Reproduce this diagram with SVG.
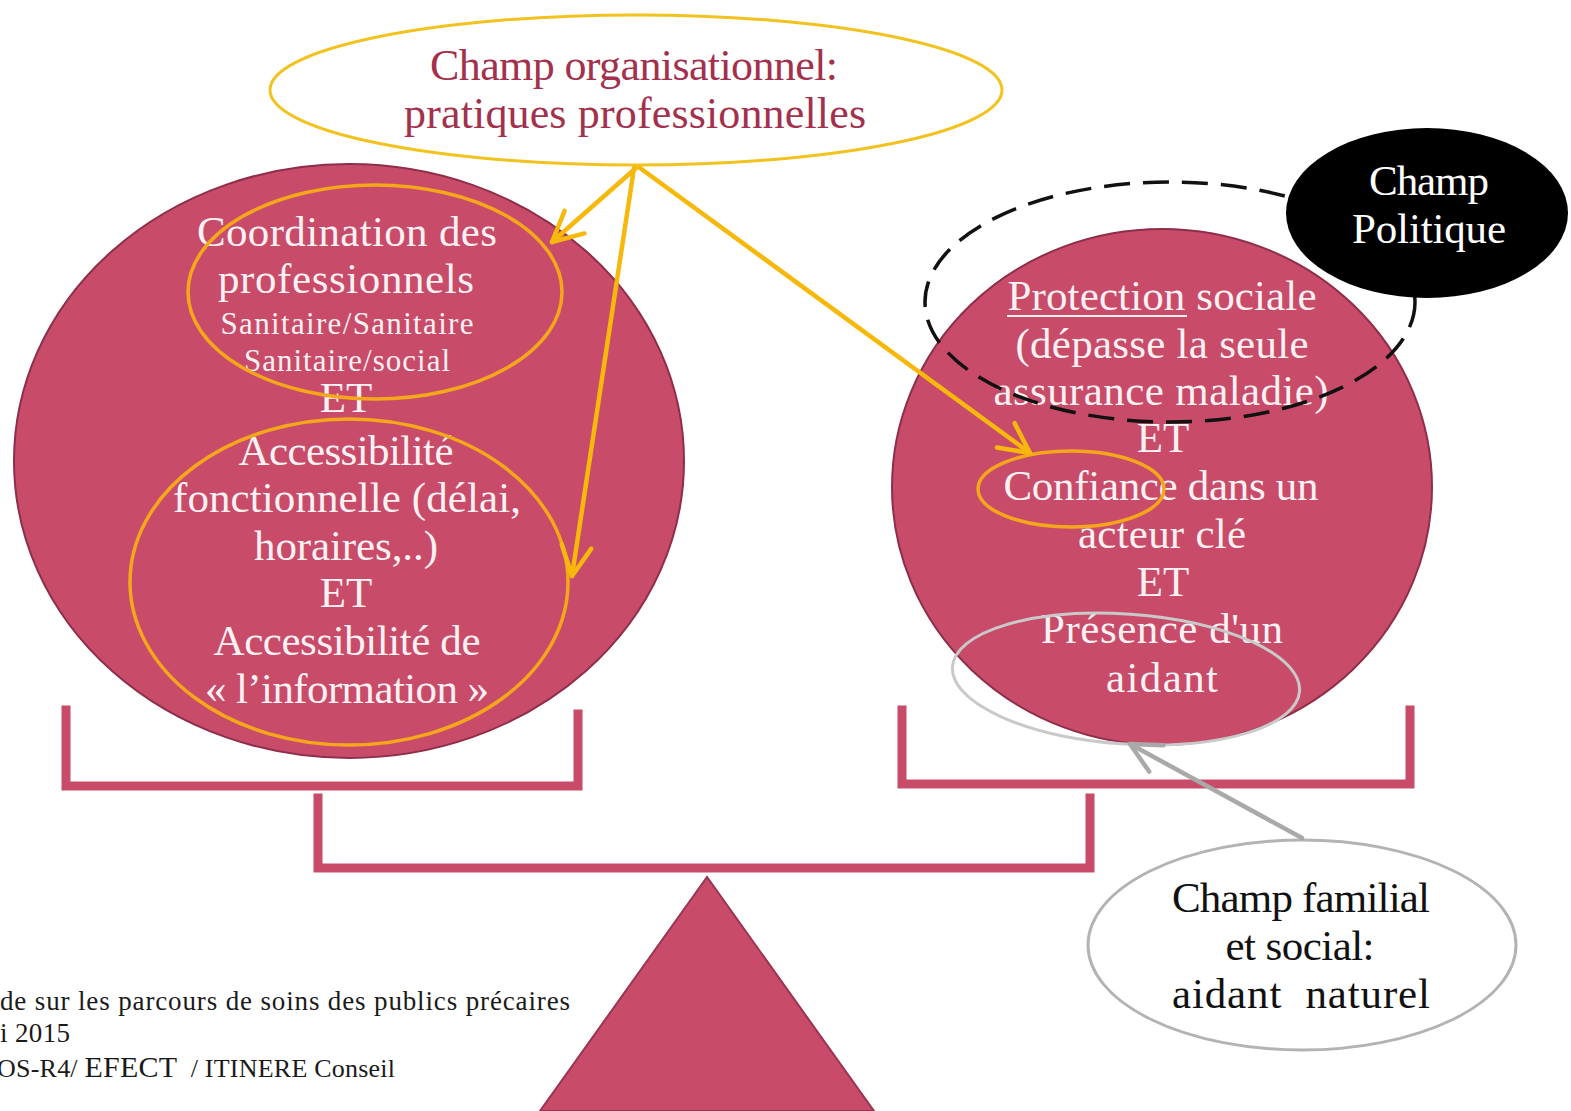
<svg xmlns="http://www.w3.org/2000/svg" width="1571" height="1111" viewBox="0 0 1571 1111">
  <style>
    .pan { fill: none; stroke: #c84c69; stroke-width: 9; stroke-linecap: square; }
    .plate { fill: #c84c69; stroke: #8e2e4a; stroke-width: 2; }
    .wt { font-family: "Liberation Serif", "DejaVu Serif", serif; fill: #fbf1f3; text-anchor: middle; }
    .bk { font-family: "Liberation Serif", "DejaVu Serif", serif; fill: #111; text-anchor: middle; }
    .rd { font-family: "Liberation Serif", "DejaVu Serif", serif; fill: #a3304c; text-anchor: middle; }
    .ring { fill: none; stroke: #f5a71b; stroke-width: 3.5; }
    .arr { fill: none; stroke: #f7b80c; stroke-width: 4.5; stroke-linecap: round; stroke-linejoin: round; }
  </style>
  <defs>
    <marker id="vhead" viewBox="0 0 12 12" refX="11" refY="6" markerWidth="8" markerHeight="8" markerUnits="strokeWidth" orient="auto">
      <path d="M1,1 L11,6 L1,11" fill="none" stroke="#f7b80c" stroke-width="1.5" stroke-linejoin="round" stroke-linecap="round"/>
    </marker>
    <marker id="ghead" viewBox="0 0 12 12" refX="11" refY="6" markerWidth="8" markerHeight="8" markerUnits="strokeWidth" orient="auto">
      <path d="M1,1 L11,6 L1,11" fill="none" stroke="#a9a9a9" stroke-width="1.5" stroke-linejoin="round" stroke-linecap="round"/>
    </marker>
  </defs>

  <rect width="1571" height="1111" fill="#ffffff"/>

  <!-- balance: fulcrum, beam and pans -->
  <g id="balance">
    <polygon points="707,877 540,1111 874,1111" fill="#c84c69" stroke="#9a3452" stroke-width="2"/>
    <path class="pan" d="M318,798 V868 H1090 V798"/>
    <path class="pan" d="M66,710 V786 H578 V714"/>
    <path class="pan" d="M902,710 V784 H1410 V710"/>
  </g>

  <!-- left plate -->
  <g id="left-plate">
    <ellipse class="plate" cx="349" cy="461" rx="335" ry="297"/>
    <text class="wt" font-size="43" x="347" y="246" textLength="300">Coordination des</text>
    <text class="wt" font-size="43" x="346" y="293" textLength="256">professionnels</text>
    <text class="wt" font-size="31" x="347" y="334" textLength="253">Sanitaire/Sanitaire</text>
    <text class="wt" font-size="31" x="347" y="371" textLength="206">Sanitaire/social</text>
    <text class="wt" font-size="43" x="346" y="412">ET</text>
    <text class="wt" font-size="43" x="346" y="465" textLength="215">Accessibilité</text>
    <text class="wt" font-size="43" x="347" y="512" textLength="348">fonctionnelle (délai,</text>
    <text class="wt" font-size="43" x="346" y="560" textLength="184">horaires,..)</text>
    <text class="wt" font-size="43" x="346" y="607">ET</text>
    <text class="wt" font-size="43" x="347" y="655" textLength="267">Accessibilité de</text>
    <text class="wt" font-size="43" x="347" y="703" textLength="284">« l’information »</text>
    <ellipse class="ring" cx="375" cy="292" rx="187" ry="107"/>
    <ellipse class="ring" cx="349" cy="582" rx="219" ry="163"/>
  </g>

  <!-- right plate -->
  <g id="right-plate">
    <ellipse class="plate" cx="1162" cy="487" rx="270" ry="258"/>
    <text class="wt" font-size="43" x="1162" y="310" textLength="309">Protection sociale</text>
    <line x1="1007" y1="316" x2="1187" y2="316" stroke="#fbf1f3" stroke-width="2"/>
    <text class="wt" font-size="43" x="1162" y="358" textLength="293">(dépasse la seule</text>
    <text class="wt" font-size="43" x="1161" y="405" textLength="335">assurance maladie)</text>
    <text class="wt" font-size="43" x="1163" y="452">ET</text>
    <text class="wt" font-size="43" x="1161" y="500" textLength="315">Confiance dans un</text>
    <text class="wt" font-size="43" x="1162" y="548" textLength="168">acteur clé</text>
    <text class="wt" font-size="43" x="1163" y="596">ET</text>
    <text class="wt" font-size="43" x="1162" y="643" textLength="242">Présence d'un</text>
    <text class="wt" font-size="43" x="1162" y="692" textLength="112">aidant</text>
    <ellipse class="ring" cx="1071" cy="489" rx="93" ry="38"/>
    <ellipse cx="1126" cy="679" rx="174" ry="65" transform="rotate(4 1126 679)" fill="none" stroke="#c9c9c9" stroke-width="3"/>
  </g>

  <!-- political field -->
  <g id="champ-politique">
    <ellipse cx="1170" cy="302" rx="245" ry="120" fill="none" stroke="#111" stroke-width="3.5" stroke-dasharray="26 13"/>
    <ellipse cx="1427" cy="213" rx="141" ry="85" fill="#000"/>
    <text font-family="Liberation Serif, DejaVu Serif, serif" fill="#fff" text-anchor="middle" font-size="43" x="1429" y="195" textLength="120">Champ</text>
    <text font-family="Liberation Serif, DejaVu Serif, serif" fill="#fff" text-anchor="middle" font-size="43" x="1429" y="243" textLength="154">Politique</text>
  </g>

  <!-- organisational field -->
  <g id="champ-organisationnel">
    <ellipse cx="636" cy="90" rx="366" ry="75" fill="#fff" stroke="#f2c21e" stroke-width="3"/>
    <text class="rd" font-size="44" x="634" y="80" textLength="408">Champ organisationnel:</text>
    <text class="rd" font-size="44" x="635" y="128" textLength="462">pratiques professionnelles</text>
  </g>

  <!-- family and social field -->
  <g id="champ-familial">
    <ellipse cx="1302" cy="945" rx="214" ry="105" fill="#fff" stroke="#b3b3b3" stroke-width="3"/>
    <text class="bk" font-size="43" x="1301" y="912" textLength="258">Champ familial</text>
    <text class="bk" font-size="43" x="1300" y="960" textLength="149">et social:</text>
    <text class="bk" font-size="43" x="1301" y="1008" textLength="258" xml:space="preserve">aidant  naturel</text>
  </g>

  <!-- connectors -->
  <g id="connectors">
    <line class="arr" x1="636" y1="168" x2="552" y2="242" marker-end="url(#vhead)"/>
    <line class="arr" x1="634" y1="168" x2="572" y2="576" marker-end="url(#vhead)"/>
    <line class="arr" x1="640" y1="168" x2="1030" y2="453" marker-end="url(#vhead)"/>
    <line x1="1302" y1="838" x2="1130" y2="744" stroke="#a9a9a9" stroke-width="4.5" stroke-linecap="round" marker-end="url(#ghead)"/>
  </g>

  <!-- source note -->
  <g id="footer" font-family="Liberation Serif, DejaVu Serif, serif" fill="#1a1a1a">
    <text x="0" y="1010" font-size="27" textLength="570">de sur les parcours de soins des publics précaires</text>
    <text x="0" y="1042" font-size="27" textLength="70">i 2015</text>
    <text x="-3" y="1077" font-size="26" textLength="398" xml:space="preserve">OS-R4/ <tspan font-size="30">EFECT</tspan>  / ITINERE Conseil</text>
  </g>
</svg>
